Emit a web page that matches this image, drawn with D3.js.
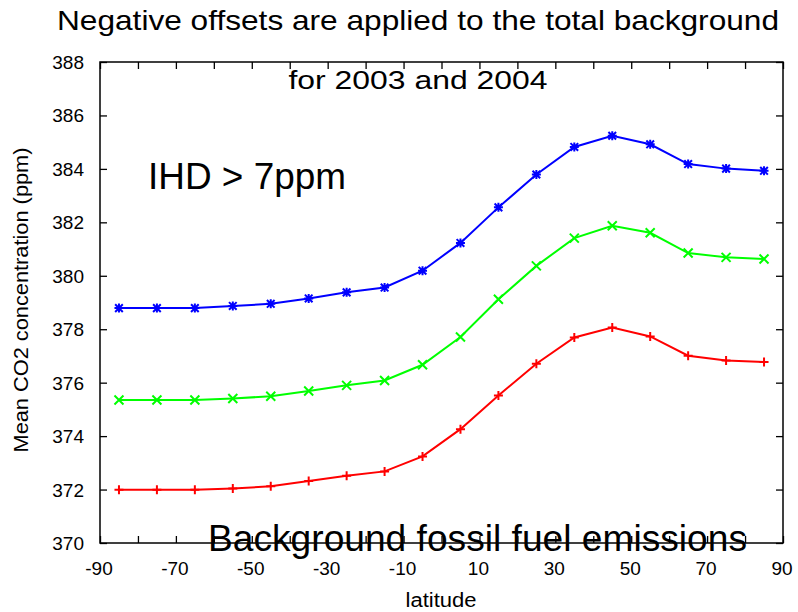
<!DOCTYPE html>
<html>
<head>
<meta charset="utf-8">
<script src="https://cdn.jsdelivr.net/npm/d3@7"></script>
<style>
  body { margin: 0; background: #fff; }
  svg { display: block; font-family: "Liberation Sans", Arial, sans-serif; }
</style>
</head>
<body>
<svg id="chart" width="798" height="612"></svg>
<script>
// ---- data ----
const latitudes = [-85, -75, -65, -55, -45, -35, -25, -15, -5, 5, 15, 25, 35, 45, 55, 65, 75, 85];
const blueValues  = [378.79, 378.79, 378.79, 378.87, 378.95, 379.15, 379.38, 379.56, 380.19, 381.23, 382.56, 383.79, 384.82, 385.24, 384.92, 384.18, 384.01, 383.93];
const greenValues = [375.35, 375.35, 375.35, 375.41, 375.49, 375.69, 375.90, 376.08, 376.67, 377.71, 379.12, 380.37, 381.41, 381.87, 381.61, 380.85, 380.69, 380.63];
const redValues   = [371.99, 371.99, 371.99, 372.04, 372.12, 372.32, 372.52, 372.68, 373.24, 374.26, 375.52, 376.71, 377.69, 378.06, 377.73, 377.01, 376.83, 376.77];
const xTickValues = [-90, -80, -70, -60, -50, -40, -30, -20, -10, 0, 10, 20, 30, 40, 50, 60, 70, 80, 90];
const xTickLabels = [-90, -70, -50, -30, -10, 10, 30, 50, 70, 90];
const yTickValues = [370, 372, 374, 376, 378, 380, 382, 384, 386, 388];
const seriesNames = ["blue", "green", "red"];
const seriesColors = ["#0000ff", "#00ff00", "#ff0000"];
const seriesMarkers = ["star", "cross", "plus"];

// ---- layout ----
const svg = d3.select("#chart");
const pLeft = 100, pRight = 783, pTop = 62, pBottom = 543;
const x = d3.scaleLinear().domain([-90, 90]).range([pLeft, pRight]);
const y = d3.scaleLinear().domain([370, 388]).range([pBottom, pTop]);
const tickLen = 7;

// frame
svg.append("rect")
  .attr("x", pLeft).attr("y", pTop)
  .attr("width", pRight - pLeft).attr("height", pBottom - pTop)
  .attr("fill", "none").attr("stroke", "#000").attr("stroke-width", 1.5);

// ticks (all four sides, inward)
const xAxisBottom = d3.axisBottom(x).tickValues(xTickValues).tickSize(-tickLen).tickFormat("");
const xAxisTop = d3.axisTop(x).tickValues(xTickValues).tickSize(-tickLen).tickFormat("");
const yAxisLeft = d3.axisLeft(y).tickValues(yTickValues).tickSize(-tickLen).tickFormat("");
const yAxisRight = d3.axisRight(y).tickValues(yTickValues).tickSize(-tickLen).tickFormat("");
[[xAxisBottom, `translate(0,${pBottom})`], [xAxisTop, `translate(0,${pTop})`],
 [yAxisLeft, `translate(${pLeft},0)`], [yAxisRight, `translate(${pRight},0)`]].forEach(([ax, tr]) => {
  const g = svg.append("g").attr("transform", tr).call(ax);
  g.select(".domain").remove();
  g.selectAll(".tick line").attr("stroke", "#000").attr("stroke-width", 1.3);
});

// x tick labels
svg.append("g").selectAll("text").data(xTickLabels).join("text")
  .attr("x", d => x(d) - 1).attr("y", pBottom + 32)
  .attr("text-anchor", "middle")
  .attr("font-size", 19)
  .text(d => d);

// y tick labels
svg.append("g").selectAll("text").data(yTickValues).join("text")
  .attr("x", pLeft - 16).attr("y", d => y(d) + 7)
  .attr("text-anchor", "end")
  .attr("font-size", 19)
  .text(d => d);

// axis titles
svg.append("text").attr("x", 441).attr("y", 607)
  .attr("text-anchor", "middle").attr("font-size", 20)
  .attr("textLength", 71).attr("lengthAdjust", "spacingAndGlyphs").text("latitude");
svg.append("text").attr("transform", "translate(28,300) rotate(-90)")
  .attr("text-anchor", "middle").attr("font-size", 20)
  .attr("textLength", 305).attr("lengthAdjust", "spacingAndGlyphs")
  .text("Mean CO2 concentration (ppm)");

// series
const seriesData = [blueValues, greenValues, redValues];
const line = d3.line().x((d, i) => x(latitudes[i])).y(d => y(d));
const ms = 4.5;
function markerPath(type) {
  const p = d3.path();
  if (type === "plus" || type === "star") {
    p.moveTo(-ms, 0); p.lineTo(ms, 0); p.moveTo(0, -ms); p.lineTo(0, ms);
  }
  if (type === "cross" || type === "star") {
    const m = type === "star" ? ms * 0.85 : ms;
    p.moveTo(-m, -m); p.lineTo(m, m); p.moveTo(-m, m); p.lineTo(m, -m);
  }
  return p.toString();
}
seriesData.forEach((vals, si) => {
  const g = svg.append("g").attr("class", "series-" + seriesNames[si]);
  g.append("path").datum(vals).attr("d", line)
    .attr("fill", "none").attr("stroke", seriesColors[si]).attr("stroke-width", 2);
  g.selectAll("path.marker").data(vals).join("path").attr("class", "marker")
    .attr("transform", (d, i) => `translate(${x(latitudes[i])},${y(d)})`)
    .attr("d", markerPath(seriesMarkers[si]))
    .attr("fill", "none").attr("stroke", seriesColors[si]).attr("stroke-width", 2);
});

// annotations
svg.append("text").attr("x", 418).attr("y", 30).attr("text-anchor", "middle")
  .attr("font-size", 28).attr("textLength", 722).attr("lengthAdjust", "spacingAndGlyphs")
  .text("Negative offsets are applied to the total background");
svg.append("text").attr("x", 418).attr("y", 89).attr("text-anchor", "middle")
  .attr("font-size", 26).attr("textLength", 259).attr("lengthAdjust", "spacingAndGlyphs")
  .text("for 2003 and 2004");
svg.append("text").attr("x", 148).attr("y", 189)
  .attr("font-size", 36).attr("textLength", 198).attr("lengthAdjust", "spacingAndGlyphs")
  .text("IHD > 7ppm");
svg.append("text").attr("x", 208).attr("y", 551)
  .attr("font-size", 37).attr("textLength", 539).attr("lengthAdjust", "spacingAndGlyphs")
  .text("Background fossil fuel emissions");
</script>
</body>
</html>
